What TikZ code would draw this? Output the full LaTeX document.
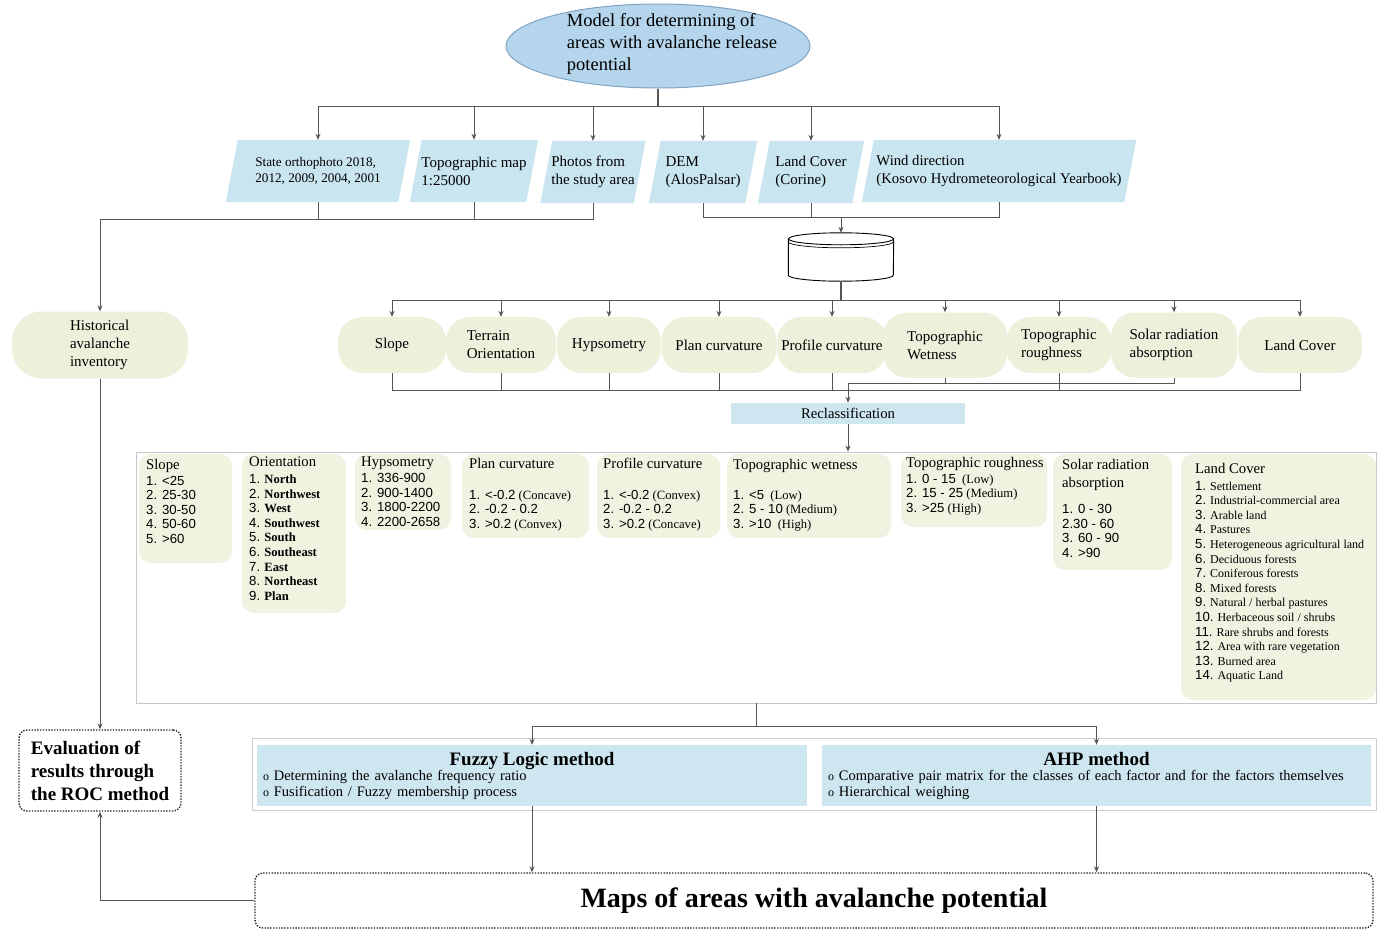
\documentclass[tikz,border=0pt]{standalone}
\usepackage{fontspec}
\setmainfont{Liberation Serif}
\newfontfamily\numf{Liberation Sans}
\usepackage{xcolor}
\usetikzlibrary{arrows.meta,backgrounds}
\usetikzlibrary{shapes.geometric}
\usetikzlibrary{calc}
\definecolor{ellblue}{HTML}{B4D5EC}
\definecolor{ellline}{HTML}{7FA3C4}
\definecolor{inblue}{HTML}{C9E5EF}
\definecolor{cream}{HTML}{EEF0DB}
\definecolor{boxcream}{HTML}{F1F2E0}
\definecolor{recblue}{HTML}{CDE6F0}
\definecolor{linegray}{HTML}{555555}
\tikzstyle{link}=[draw=linegray, line width=0.9pt]
\tikzstyle{linkarr}=[link, -{Stealth[length=6pt,width=5pt]}]
\tikzstyle{inbox}=[inner sep=0pt, minimum height=62pt, align=left, font=\fontsize{15}{18}\selectfont]
\tikzstyle{factor}=[fill=cream, rounded corners=24pt, inner sep=2pt, minimum height=56pt, align=left, font=\fontsize{15}{18}\selectfont]
\tikzstyle{clsfill}=[fill=boxcream, rounded corners=12pt]
\tikzstyle{clstext}=[anchor=north west, inner sep=0pt, align=left, font=\fontsize{12.6}{14.6}\selectfont]
\tikzstyle{method}=[fill=recblue, minimum height=61pt, inner sep=6pt, align=left, font=\fontsize{14.5}{15.5}\selectfont]
\tikzstyle{dotbox}=[draw=black!85, line width=1.4pt, dash pattern=on 1.4pt off 1.4pt, rounded corners=8pt]
\newcommand{\nm}[1]{{\numf\fontsize{13.2}{14.6}\selectfont #1}}
\newcommand{\ctitle}[1]{{\fontsize{14.7}{14.6}\selectfont #1}}
\newcommand{\bul}{{\fontsize{12}{12}\selectfont o}\ }
\newcommand{\inputbox}[4]{
	\node[inbox, #3] (#1) at #2 {#4};
	\begin{scope}[on background layer]
		\fill[inblue] ($(#1.north west)+(6,0)$) -- ($(#1.north east)+(6,0)$) -- ($(#1.south east)+(-6,0)$) -- ($(#1.south west)+(-6,0)$) -- cycle;
	\end{scope}
}
\newcommand{\classbox}[6][]{
	\fill[clsfill] #3 rectangle #4;
	\node[clstext, #1] (#2) at #5 {#6};
}

\begin{document}
\begin{tikzpicture}[x=1pt, y=-1pt]
	\useasboundingbox (0,0) rectangle (1382,929);
	\begin{scope}[on background layer]
		\fill[white] (0,0) rectangle (1382,929);
	\end{scope}
	\node[ellipse, fill=ellblue, draw=ellline, line width=1pt, minimum width=304, minimum height=84] (model) at (658,46) {};
	\node[align=left, font=\fontsize{18.5}{22}\selectfont] (modeltext) at (672,44) {Model for determining of\\areas with avalanche release\\potential};
	\inputbox{orth}{(318,171)}{minimum width=172, font=\fontsize{13.2}{16}\selectfont}{State orthophoto 2018,\\2012, 2009, 2004, 2001}
	\inputbox{topo}{(474,171)}{minimum width=116}{Topographic map\\1:25000}
	\inputbox{photo}{(593,172)}{minimum width=93}{Photos from\\the study area}
	\inputbox{dem}{(703,172)}{minimum width=96}{DEM\\(AlosPalsar)}
	\inputbox{lc}{(811,172)}{minimum width=94}{Land Cover\\(Corine)}
	\inputbox{wind}{(999,171)}{minimum width=262, font=\fontsize{14.7}{18}\selectfont}{Wind direction\\(Kosovo Hydrometeorological Yearbook)}
	\coordinate (jn0) at (658,106);
	\draw[link, line width=1.4pt] (model.south) -- (jn0);
	\foreach \n in {orth,topo,photo,dem,lc,wind}
		\draw[linkarr] (jn0) -| (\n.north);

	\node[minimum width=105, minimum height=48, inner sep=0pt] (db) at (841,257) {};
	\draw[line width=0.9pt] ($(db.north west)+(0,6)$) -- ($(db.south west)+(0,-6)$) arc[start angle=180, end angle=0, x radius=52.5, y radius=6] -- ($(db.north east)+(0,6)$);
	\draw[line width=0.9pt] ($(db.north)+(0,6)$) ellipse[x radius=52.5, y radius=6];
	\draw[line width=0.7pt] ($(db.north west)+(0,9)$) arc[start angle=180, end angle=0, x radius=52.5, y radius=6];

	\node[factor, minimum width=176, minimum height=67, rounded corners=30pt] (hist) at (100,345) {Historical\\avalanche\\inventory};
	\coordinate (jn1) at (100,219);
	\draw[linkarr] (photo.south) |- (jn1) -- (hist.north);
	\draw[link] (orth.south) -- (orth.south |- jn1);
	\draw[link] (topo.south) -- (topo.south |- jn1);
	\coordinate (jn2) at (841,217);
	\draw[link] (dem.south) |- (jn2);
	\draw[link] (wind.south) |- (jn2);
	\draw[link] (lc.south) -- (lc.south |- jn2);
	\draw[linkarr] (jn2) -- (db.north);

	\node[factor, minimum width=108] (fslope) at (392,345) {Slope};
	\node[factor, minimum width=110] (forient) at (501,345) {Terrain\\Orientation};
	\node[factor, minimum width=104] (fhyps) at (609,345) {Hypsometry};
	\node[factor, minimum width=115] (fplan) at (719,345) {Plan curvature};
	\node[factor, minimum width=110] (fprof) at (832,345) {Profile curvature};
	\node[factor, minimum width=124, minimum height=65] (fwet) at (945,345) {Topographic\\Wetness};
	\node[factor, minimum width=105] (frough) at (1059,345) {Topographic\\roughness};
	\node[factor, minimum width=126, minimum height=65] (fsolar) at (1174,345) {Solar radiation\\absorption};
	\node[factor, minimum width=124] (fland) at (1300,345) {Land Cover};
	\coordinate (jn3) at (841,300);
	\draw[link, line width=1.4pt] (db.south) -- (jn3);
	\foreach \n in {fslope,forient,fhyps,fplan,fprof,fwet,frough,fsolar,fland}
		\draw[linkarr] (jn3) -| (\n.north);

	\node[fill=recblue, minimum width=234, minimum height=21, inner sep=0pt, font=\fontsize{14.7}{15}\selectfont] (recl) at (848,413.5) {Reclassification};
	\coordinate (bot) at (0,390);
	\coordinate (jn4) at (848,383);
	\draw[link] (fslope.south) |- (fland.south |- bot) -- (fland.south);
	\foreach \n in {forient,fhyps,fplan,fprof,frough}
		\draw[link] (\n.south) -- (\n.south |- bot);
	\draw[link] (fwet.south) |- (jn4);
	\draw[link] (fsolar.south) |- (jn4);
	\draw[linkarr] (jn4) -- (recl.north);

	\node[draw=black!22, line width=0.8pt, minimum width=1240, minimum height=251, inner sep=0pt] (frame) at (756,577.5) {};
	\draw[linkarr] (recl.south) -- (recl.south |- frame.north);
	\classbox{clsslope}{(139,454)}{(232,563)}{(146,459)}{\ctitle{Slope}\\[1pt]\nm{1. <25}\\\nm{2. 25-30}\\\nm{3. 30-50}\\\nm{4. 50-60}\\\nm{5. >60}}
	\classbox{clsorient}{(242,454)}{(346,613)}{(249,457)}{\ctitle{Orientation}\\[2pt]\nm{1.} \textbf{North}\\\nm{2.} \textbf{Northwest}\\\nm{3.} \textbf{West}\\\nm{4.} \textbf{Southwest}\\\nm{5.} \textbf{South}\\\nm{6.} \textbf{Southeast}\\\nm{7.} \textbf{East}\\\nm{8.} \textbf{Northeast}\\\nm{9.} \textbf{Plan}}
	\classbox{clshyps}{(355,454)}{(451,530)}{(361,457)}{\ctitle{Hypsometry}\\[1pt]\nm{1. 336-900}\\\nm{2. 900-1400}\\\nm{3. 1800-2200}\\\nm{4. 2200-2658}}
	\classbox{clsplan}{(462,454)}{(589,538)}{(469,458)}{\ctitle{Plan curvature}\\[16pt]\nm{1. <-0.2} (Concave)\\\nm{2. -0.2 - 0.2}\\\nm{3. >0.2} (Convex)}
	\classbox{clsprof}{(597,454)}{(720,538)}{(603,458)}{\ctitle{Profile curvature}\\[16pt]\nm{1. <-0.2} (Convex)\\\nm{2. -0.2 - 0.2}\\\nm{3. >0.2} (Concave)}
	\classbox{clswet}{(727,454)}{(891,538)}{(733,459)}{\ctitle{Topographic wetness}\\[15pt]\nm{1. <5}~ (Low)\\\nm{2. 5 - 10} (Medium)\\\nm{3. >10}~ (High)}
	\classbox{clsrough}{(901,454)}{(1047,527)}{(906,457)}{\ctitle{Topographic roughness}\\[1pt]\nm{1. 0 - 15}~ (Low)\\\nm{2. 15 - 25} (Medium)\\\nm{3. >25} (High)}
	\classbox{clssolar}{(1053,454)}{(1172,570)}{(1062,459)}{\ctitle{Solar radiation}\\[3pt]\ctitle{absorption}\\[12pt]\nm{1. 0 - 30}\\\nm{2.30 - 60}\\\nm{3. 60 - 90}\\\nm{4. >90}}
	\classbox[font=\fontsize{12}{14.6}\selectfont]{clsland}{(1181,454)}{(1376,700)}{(1195,463)}{\ctitle{Land Cover}\\[2pt]\nm{1.} Settlement\\\nm{2.} Industrial-commercial area\\\nm{3.} Arable land\\\nm{4.} Pastures\\\nm{5.} Heterogeneous agricultural land\\\nm{6.} Deciduous forests\\\nm{7.} Coniferous forests\\\nm{8.} Mixed forests\\\nm{9.} Natural / herbal pastures\\\nm{10.} Herbaceous soil / shrubs\\\nm{11.} Rare shrubs and forests\\\nm{12.} Area with rare vegetation\\\nm{13.} Burned area\\\nm{14.} Aquatic Land}

	\draw[black!20, line width=1pt] (252,738) rectangle (1376,810);
	\node[method, text width=538] (fuzzy) at (532,775.5) {{\centering\bfseries\fontsize{19}{21}\selectfont Fuzzy Logic method\par}\bul Determining the avalanche frequency ratio\\\bul Fusification / Fuzzy membership process};
	\node[method, text width=537] (ahp) at (1096.5,775.5) {{\centering\bfseries\fontsize{19}{20}\selectfont AHP method\par}\bul Comparative pair matrix for the classes of each factor and for the factors themselves\\\bul Hierarchical weighing};
	\coordinate (jn5) at (756,726);
	\draw[link] (frame.south) -- (jn5);
	\draw[linkarr] (jn5) -| (fuzzy.north);
	\draw[linkarr] (jn5) -| (ahp.north);

	\node[dotbox, minimum width=1118, minimum height=55, font=\bfseries\fontsize{28}{30}\selectfont] (maps) at (814,900.5) {Maps of areas with avalanche potential};
	\node[dotbox, minimum width=162, minimum height=81, align=left, font=\bfseries\fontsize{19}{23}\selectfont] (eval) at (100,770.5) {Evaluation of\\results through\\the ROC method};
	\draw[linkarr] (fuzzy.south) -- (fuzzy.south |- maps.north);
	\draw[linkarr] (ahp.south) -- (ahp.south |- maps.north);
	\draw[linkarr] (hist.south) -- (eval.north);
	\draw[linkarr] (maps.west) -| (eval.south);
\end{tikzpicture}
\end{document}
